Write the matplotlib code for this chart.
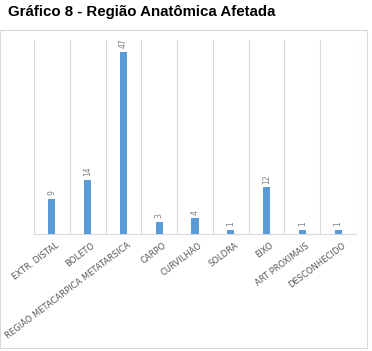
import numpy as np
import matplotlib
matplotlib.use('Agg')
import matplotlib.pyplot as plt
import matplotlib.patches as mpatches
from matplotlib.transforms import ScaledTranslation

categorias = ['EXTR. DISTAL', 'BOLETO', 'REGIÃO METACARPICA METATARSICA', 'CARPO',
              'CURVILHÃO', 'SOLDRA', 'EIXO', 'ART PROXIMAIS', 'DESCONHECIDO']
valores = [9, 14, 47, 3, 4, 1, 12, 1, 1]

azul = '#5b9bd5'
cinza = '#595959'

fig = plt.figure(figsize=(3.72, 3.51), dpi=100)
fig.patch.set_facecolor('white')

# moldura do grafico
box = mpatches.Rectangle((0.0, 1 - 348 / 351), 367 / 372, 318 / 351, transform=fig.transFigure,
                         fill=False, ec='#d9d9d9', lw=0.8)
fig.patches.append(box)

fig.text(8 / 372, 1 - 12 / 351, 'Gráfico 8 - Região Anatômica Afetada', fontsize=10.8,
         fontweight='bold', family='Liberation Sans', va='center', ha='left')

ax = fig.add_axes([34 / 372, 1 - 234 / 351, 322 / 372, 194 / 351])
x = np.arange(len(categorias))
bars = ax.bar(x, valores, width=0.2, color=azul, zorder=3)

ax.set_xlim(-0.5, len(categorias) - 0.5)
ax.set_ylim(0, 50)
ax.set_yticks([])
ax.set_xticks(x)
ax.set_xticklabels(categorias, rotation=37, ha='right', rotation_mode='anchor',
                   fontsize=6.0, color=cinza)
ax.tick_params(axis='x', length=0, pad=5)
desloc = ScaledTranslation(0.035, 0, fig.dpi_scale_trans)
for lab in ax.get_xticklabels():
    lab.set_transform(lab.get_transform() + desloc)
ax.set_xticks(np.arange(-0.5, len(categorias)), minor=True)
ax.tick_params(axis='x', which='minor', length=0)
ax.grid(True, axis='x', which='minor', color='#d9d9d9', lw=0.8, zorder=0)

for s in ['top', 'right', 'left']:
    ax.spines[s].set_visible(False)
ax.spines['bottom'].set_color('#d9d9d9')

for xi, v in zip(x, valores):
    ax.text(xi, v + 1, str(v), rotation=90, ha='center', va='bottom', fontsize=5.5, color='#7f7f7f')

fig.savefig('out.png', dpi=100)
